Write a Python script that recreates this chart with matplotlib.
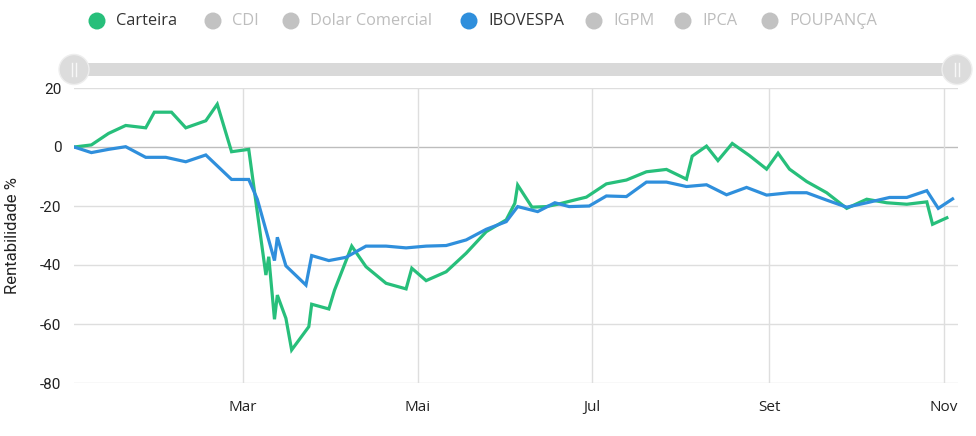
import numpy as np
import pandas as pd
import matplotlib
matplotlib.use("Agg")
import matplotlib.pyplot as plt
import matplotlib.dates as mdates
from matplotlib.patches import Circle, FancyBboxPatch

plt.rcParams['font.family'] = ['Open Sans', 'DejaVu Sans']
plt.rcParams['axes.unicode_minus'] = False

# dados (rentabilidade acumulada em %)
carteira_dates = ['2020-01-02', '2020-01-08', '2020-01-14', '2020-01-20', '2020-01-27', '2020-01-30',
                  '2020-02-05', '2020-02-10', '2020-02-17', '2020-02-21', '2020-02-26', '2020-03-03',
                  '2020-03-09', '2020-03-10', '2020-03-12', '2020-03-13', '2020-03-16', '2020-03-18',
                  '2020-03-24', '2020-03-25', '2020-03-31', '2020-04-02', '2020-04-08', '2020-04-13',
                  '2020-04-20', '2020-04-27', '2020-04-29', '2020-05-04', '2020-05-11', '2020-05-18',
                  '2020-05-25', '2020-06-01', '2020-06-04', '2020-06-05', '2020-06-10', '2020-06-15',
                  '2020-06-19', '2020-06-26', '2020-06-29', '2020-07-06', '2020-07-13', '2020-07-20',
                  '2020-07-27', '2020-08-03', '2020-08-05', '2020-08-10', '2020-08-14', '2020-08-19',
                  '2020-08-25', '2020-08-31', '2020-09-04', '2020-09-08', '2020-09-14', '2020-09-21',
                  '2020-09-28', '2020-10-05', '2020-10-12', '2020-10-19', '2020-10-26', '2020-10-28',
                  '2020-11-02']
carteira = [0, 0.7, 4.6, 7.3, 6.5, 11.8, 11.8, 6.5, 8.9, 14.5, -1.6, -0.8,
            -43.4, -37.2, -58.4, -50.2, -58.1, -68.8, -60.9, -53.3, -54.9, -48.5, -33.6, -40.6,
            -46.2, -48.1, -41.1, -45.3, -42.3, -36.0, -28.7, -24.7, -19.1, -12.9, -20.4, -20.2,
            -19.4, -17.7, -17.0, -12.5, -11.2, -8.4, -7.6, -10.9, -3.1, 0.3, -4.6, 1.2,
            -2.9, -7.5, -2.1, -7.5, -11.7, -15.5, -20.8, -17.7, -18.9, -19.4, -18.6, -26.2,
            -24.0]

ibov_dates = ['2020-01-02', '2020-01-08', '2020-01-14', '2020-01-20', '2020-01-27', '2020-02-03',
              '2020-02-10', '2020-02-17', '2020-02-26', '2020-03-03', '2020-03-06', '2020-03-12',
              '2020-03-13', '2020-03-16', '2020-03-23', '2020-03-25', '2020-03-31', '2020-04-06',
              '2020-04-13', '2020-04-20', '2020-04-27', '2020-05-04', '2020-05-11', '2020-05-18',
              '2020-05-25', '2020-06-01', '2020-06-05', '2020-06-12', '2020-06-18', '2020-06-23',
              '2020-06-30', '2020-07-06', '2020-07-13', '2020-07-20', '2020-07-27', '2020-08-03',
              '2020-08-10', '2020-08-17', '2020-08-24', '2020-08-31', '2020-09-08', '2020-09-14',
              '2020-09-21', '2020-09-28', '2020-10-05', '2020-10-13', '2020-10-19', '2020-10-26',
              '2020-10-30', '2020-11-04']
ibovespa = [0, -1.9, -0.8, 0.1, -3.5, -3.5, -5.0, -2.7, -11.0, -11.0, -17.7, -38.5,
            -30.6, -40.3, -46.8, -36.8, -38.5, -37.4, -33.6, -33.6, -34.2, -33.6, -33.4, -31.5,
            -27.9, -25.3, -20.2, -21.9, -18.9, -20.2, -20.0, -16.6, -16.8, -11.9, -11.9, -13.4,
            -12.8, -16.2, -13.7, -16.3, -15.5, -15.5, -18.0, -20.4, -18.9, -17.1, -17.1, -14.8,
            -20.8, -17.6]

legend_names = ['Carteira', 'CDI', 'Dolar Comercial', 'IBOVESPA', 'IGPM', 'IPCA', 'POUPANÇA']
legend_on = [True, False, False, True, False, False, False]
month_ticks = ['2020-03-01', '2020-05-01', '2020-07-01', '2020-09-01', '2020-11-01']
month_labels = ['Mar', 'Mai', 'Jul', 'Set', 'Nov']
y_ticks = [20, 0, -20, -40, -60, -80]

GREEN = '#27bf7b'
BLUE = '#2f8fdc'
colors_on = {'Carteira': GREEN, 'IBOVESPA': BLUE}

W, H = 976, 436
fig = plt.figure(figsize=(W / 100, H / 100), dpi=100)
ax = fig.add_axes([74 / W, 1 - 383 / H, (958 - 74) / W, (383 - 88) / H])

ax.plot(pd.to_datetime(carteira_dates), carteira, color=GREEN, lw=2.3, zorder=3,
        solid_joinstyle='miter')
ax.plot(pd.to_datetime(ibov_dates), ibovespa, color=BLUE, lw=2.3, zorder=3,
        solid_joinstyle='miter')

start = pd.Timestamp('2020-01-01')
ax.set_xlim(mdates.date2num(start) + 0.93, mdates.date2num(start) + 309.9)
ax.set_ylim(-80, 20)
ax.set_yticks(y_ticks)
ax.set_xticks(pd.to_datetime(month_ticks))
ax.set_xticklabels(month_labels)

for s in ax.spines.values():
    s.set_visible(False)
ax.tick_params(length=0, colors='#222222')
ax.tick_params(axis='y', pad=9, labelsize=11)
ax.tick_params(axis='x', pad=12, labelsize=11)
for lab in ax.get_yticklabels():
    lab.set_family(['Roboto', 'DejaVu Sans'])
for y in y_ticks:
    ax.axhline(y, color='#bdbdbd' if y == 0 else '#dedede', lw=1, zorder=1)
ax.grid(axis='x', color='#dedede', lw=1, zorder=1)
ax.set_ylabel('Rentabilidade %', fontsize=12, color='#222222', family=['Roboto', 'DejaVu Sans'])
ax.yaxis.set_label_coords(-54 / (958 - 74), 0.5)

# camada de sobreposicao: legenda e slider
ov = fig.add_axes([0, 0, 1, 1], zorder=5)
ov.set_xlim(0, W)
ov.set_ylim(H, 0)
ov.axis('off')

legend_x = [97, 213, 291, 469, 594, 683, 770]
for name, on, lx in zip(legend_names, legend_on, legend_x):
    c = colors_on.get(name, '#c2c2c2') if on else '#c2c2c2'
    ov.add_patch(Circle((lx, 21), 8.5, color=c, lw=0))
    ov.text(lx + 19, 21, name, fontsize=11.8, va='center', ha='left',
            color='#333333' if on else '#bdbdbd')

# slider
ov.add_patch(FancyBboxPatch((75, 63.5), 882, 12.5, boxstyle='square,pad=0',
                            color='#d9d9d9', lw=0))
for hx in (74, 957):
    ov.add_patch(Circle((hx, 69.5), 15, facecolor='#dcdcdc', edgecolor='#eeeeee', lw=1))
    ov.plot([hx - 2, hx - 2], [63, 76], color='#f7f7f7', lw=1)
    ov.plot([hx + 2, hx + 2], [63, 76], color='#f7f7f7', lw=1)

fig.savefig('out.png', dpi=100)
